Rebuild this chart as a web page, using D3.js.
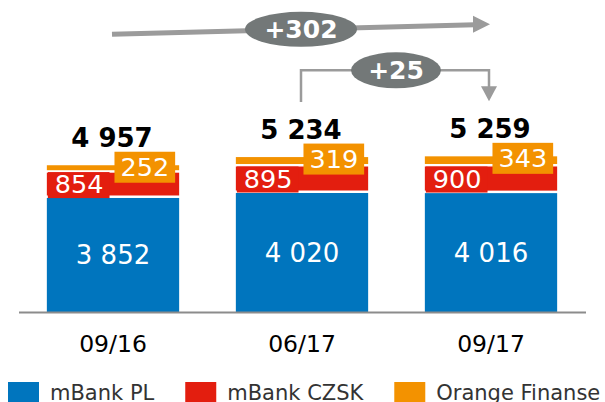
<!DOCTYPE html>
<html>
<head>
<meta charset="utf-8">
<style>
  body { margin: 0; background: #fff; }
  text { font-family: "DejaVu Sans", Verdana, sans-serif; }
</style>
</head>
<body>
<div id="chart"></div>
<script src="https://d3js.org/d3.v7.min.js"></script>
<script>
// data
var periods = ["09/16", "06/17", "09/17"];
var seriesNames = ["mBank PL", "mBank CZSK", "Orange Finanse"];
var mbankPL = [3852, 4020, 4016];
var mbankCZSK = [854, 895, 900];
var orangeFin = [252, 319, 343];
var totals = [4957, 5234, 5259];
var colors = ["#0075be", "#e31e0f", "#f39200"];

var W = 605, H = 402;
var baseY = 312;

var svg = d3.select("#chart").append("svg")
  .attr("width", W)
  .attr("height", H);

var x = d3.scaleBand()
  .domain(periods)
  .range([18.5, 585.5])
  .paddingInner(0.3)
  .paddingOuter(0.15);

var y = d3.scaleLinear()
  .domain([0, 5000])
  .range([baseY, 164]);

var fmt = d3.formatLocale({decimal: ",", thousands: " ", grouping: [3], currency: ["", ""]}).format(",d");

var rows = periods.map(function(p, i) {
  return {period: p, vals: [mbankPL[i], mbankCZSK[i], orangeFin[i]], total: totals[i]};
});

var gap = 2.5;

// bars
rows.forEach(function(r) {
  var g = svg.append("g");
  var x0 = x(r.period), bw = x.bandwidth(), cx = x0 + bw / 2;
  var cum = 0;
  var segs = r.vals.map(function(v, k) {
    var s = {k: k, v: v, y0: cum, y1: cum + v};
    cum += v;
    return s;
  });
  var top = cum;
  segs.forEach(function(s) {
    var yt = y(s.y1), yb = y(s.y0);
    var h = yb - yt - (s.k > 0 ? gap : 0);
    g.append("rect")
      .attr("x", x0).attr("y", yt)
      .attr("width", bw).attr("height", Math.max(h, 0))
      .attr("fill", colors[s.k]);
    s.yt = yt; s.yb = yb - (s.k > 0 ? gap : 0);
  });

  // blue label
  var b = segs[0];
  g.append("text")
    .attr("x", cx).attr("y", (b.yt + b.yb) / 2 + 9)
    .attr("text-anchor", "middle")
    .attr("fill", "#fff")
    .attr("font-size", 26)
    .text(fmt(b.v));

  // red label on a red box at left
  var rd = segs[1];
  var rc = (rd.yt + rd.yb) / 2;
  var rt = g.append("text")
    .attr("x", x0 + 8).attr("y", rc + 9)
    .attr("fill", "#fff")
    .attr("font-size", 25.5)
    .text(fmt(rd.v));
  var rw = rt.node().getComputedTextLength();
  g.insert("rect", function() { return rt.node(); })
    .attr("x", x0 + 1).attr("y", rc - 12)
    .attr("width", rw + 13).attr("height", 26)
    .attr("fill", colors[1]);

  // orange label on an orange box at right
  var o = segs[2];
  var oc = y(top) + 2;
  var ot = g.append("text")
    .attr("y", oc + 9)
    .attr("text-anchor", "middle")
    .attr("fill", "#fff")
    .attr("font-size", 25.5)
    .text(fmt(o.v));
  var ow = ot.node().getComputedTextLength();
  var boxW = ow + 12;
  var bx = x0 + bw - 4 - boxW;
  ot.attr("x", bx + boxW / 2);
  g.insert("rect", function() { return ot.node(); })
    .attr("x", bx).attr("y", oc - 15.5)
    .attr("width", boxW).attr("height", 31)
    .attr("fill", colors[2]);

  // total
  g.append("text")
    .attr("x", cx - 1).attr("y", y(r.total) - 18)
    .attr("text-anchor", "middle")
    .attr("font-size", 26)
    .attr("font-weight", "bold")
    .attr("fill", "#000")
    .text(fmt(r.total));
});

// x axis
var xAxis = svg.append("g")
  .attr("transform", "translate(0," + baseY + ")")
  .call(d3.axisBottom(x).tickSize(0).tickSizeOuter(0).tickPadding(23));
xAxis.select(".domain").attr("stroke", "#8c8c8c").attr("stroke-width", 2);
xAxis.selectAll(".tick text")
  .attr("font-family", "DejaVu Sans, Verdana, sans-serif")
  .attr("font-size", 23.5)
  .attr("fill", "#000");

// growth annotations
var grey = "#9b9b9b", pill = "#737878";
var c0 = x(periods[0]) + x.bandwidth() / 2;
var c1 = x(periods[1]) + x.bandwidth() / 2;
var c2 = x(periods[2]) + x.bandwidth() / 2;

// long arrow 09/16 -> 09/17
var a0 = [c0 - 1, y(totals[0]) - 131];
var a1 = [c2 - 1, y(totals[2]) - 132];
var slope = (a1[1] - a0[1]) / (a1[0] - a0[0]);
svg.append("line")
  .attr("x1", a0[0]).attr("y1", a0[1])
  .attr("x2", a1[0] - 15).attr("y2", a1[1] - 15 * slope)
  .attr("stroke", grey).attr("stroke-width", 5);
svg.append("path")
  .attr("d", "M" + a1[0] + "," + a1[1] + "L" + (a1[0] - 17) + "," + (a1[1] - 8.5) + "L" + (a1[0] - 17) + "," + (a1[1] + 8.5) + "Z")
  .attr("fill", grey);
var e1y = a0[1] + slope * (c1 - 1 - a0[0]);
svg.append("ellipse")
  .attr("cx", c1 - 1).attr("cy", e1y)
  .attr("rx", 56).attr("ry", 17.5)
  .attr("fill", pill);
svg.append("text")
  .attr("x", c1 - 1).attr("y", e1y + 9)
  .attr("text-anchor", "middle")
  .attr("fill", "#fff").attr("font-weight", "bold").attr("font-size", 25)
  .text("+" + (totals[2] - totals[0]));

// bracket 06/17 -> 09/17
var topY = y(totals[2]) - 86;
var l1 = y(totals[1]) - 55, l2 = y(totals[2]) - 55;
svg.append("path")
  .attr("d", "M" + (c1 - 1) + "," + l1 + "V" + topY + "H" + (c2 - 2) + "V" + (l2 - 12))
  .attr("fill", "none").attr("stroke", grey).attr("stroke-width", 2.5);
svg.append("path")
  .attr("d", "M" + (c2 - 2) + "," + l2 + "L" + (c2 - 10) + "," + (l2 - 15) + "L" + (c2 + 6) + "," + (l2 - 15) + "Z")
  .attr("fill", grey);
var e2x = (c1 + c2) / 2 - 0.5;
svg.append("ellipse")
  .attr("cx", e2x).attr("cy", topY)
  .attr("rx", 45).attr("ry", 18)
  .attr("fill", pill);
svg.append("text")
  .attr("x", e2x).attr("y", topY + 9)
  .attr("text-anchor", "middle")
  .attr("fill", "#fff").attr("font-weight", "bold").attr("font-size", 25)
  .text("+" + (totals[2] - totals[1]));

// legend
var lg = svg.append("g").attr("transform", "translate(8,382)");
var lx = 0;
seriesNames.forEach(function(name, k) {
  lg.append("rect")
    .attr("x", lx).attr("y", 0)
    .attr("width", 31).attr("height", 31)
    .attr("fill", colors[k]);
  var t = lg.append("text")
    .attr("x", lx + 42).attr("y", 18)
    .attr("font-size", 21)
    .attr("fill", "#333")
    .text(name);
  lx += 42 + t.node().getComputedTextLength() + 31;
});
</script>
</body>
</html>
